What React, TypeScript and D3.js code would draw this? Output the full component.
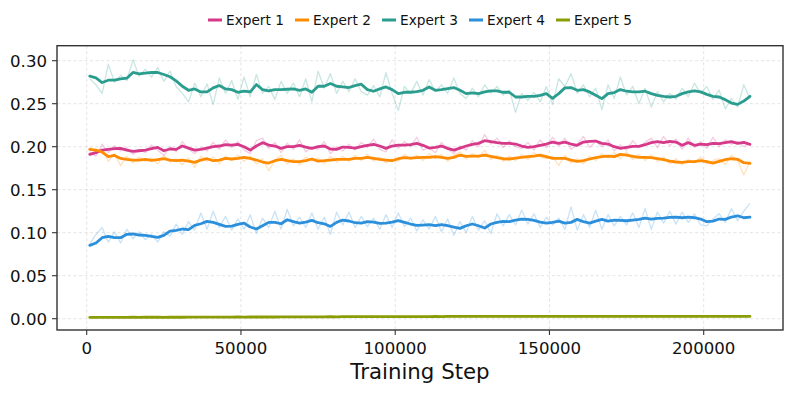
import React from "react";
import * as d3 from "d3";

// Training steps (x categories)
const steps: number[] = d3.range(1000, 215001, 2000);

const seriesNames = ["Expert 1", "Expert 2", "Expert 3", "Expert 4", "Expert 5"];
const seriesColors = ["#d6398a", "#ff8c00", "#2a9d8f", "#2b8fdb", "#8a9c06"];

const yTicks = [0, 0.05, 0.1, 0.15, 0.2, 0.25, 0.3];
const xTicks = [0, 50000, 100000, 150000, 200000];
const xLabel = "Training Step";

// Expert 1
const expert1Smooth = [
  0.1911, 0.193, 0.1961, 0.1969, 0.1977, 0.1981, 0.1961, 0.1946, 0.1953, 0.1961,
  0.1977, 0.1992, 0.1953, 0.1973, 0.1969, 0.2008, 0.1984, 0.1961, 0.1969, 0.1984,
  0.2, 0.2008, 0.2023, 0.2019, 0.2027, 0.2, 0.1961, 0.2008, 0.2047, 0.2019,
  0.2008, 0.1981, 0.2, 0.2, 0.2016, 0.1996, 0.1981, 0.2, 0.2008, 0.1973,
  0.1969, 0.1996, 0.1992, 0.1984, 0.2, 0.2016, 0.2027, 0.2008, 0.1981, 0.2008,
  0.2019, 0.2019, 0.2023, 0.2039, 0.2016, 0.1984, 0.1992, 0.2008, 0.1981, 0.1961,
  0.1984, 0.2008, 0.2027, 0.2039, 0.207, 0.2058, 0.2047, 0.2039, 0.2039, 0.2031,
  0.2008, 0.1992, 0.2, 0.2016, 0.2031, 0.2054, 0.2039, 0.2054, 0.2031, 0.2016,
  0.2054, 0.2062, 0.2066, 0.2039, 0.2031, 0.2, 0.1981, 0.1992, 0.2004, 0.2004,
  0.2023, 0.2047, 0.2058, 0.2047, 0.2062, 0.2054, 0.2016, 0.2047, 0.2016, 0.2031,
  0.2023, 0.2039, 0.2035, 0.2047, 0.2058, 0.2039, 0.205, 0.2027,
];
const expert1Raw = [
  0.194, 0.189, 0.203, 0.193, 0.201, 0.195, 0.199, 0.191, 0.197, 0.193,
  0.202, 0.196, 0.19, 0.2, 0.194, 0.206, 0.197, 0.192, 0.199, 0.195,
  0.205, 0.197, 0.208, 0.199, 0.206, 0.196, 0.192, 0.207, 0.21, 0.198,
  0.205, 0.193, 0.204, 0.197, 0.208, 0.194, 0.199, 0.197, 0.206, 0.192,
  0.2, 0.195, 0.203, 0.196, 0.205, 0.199, 0.209, 0.197, 0.194, 0.208,
  0.198, 0.206, 0.2, 0.211, 0.196, 0.199, 0.193, 0.205, 0.197, 0.192,
  0.201, 0.196, 0.207, 0.2, 0.214, 0.203, 0.21, 0.199, 0.207, 0.2,
  0.198, 0.205, 0.196, 0.208, 0.199, 0.211, 0.201, 0.21, 0.197, 0.203,
  0.212, 0.199, 0.206, 0.2, 0.208, 0.195, 0.202, 0.196, 0.207, 0.199,
  0.205, 0.21, 0.199, 0.212, 0.201, 0.209, 0.197, 0.21, 0.199, 0.206,
  0.198, 0.211, 0.2, 0.208, 0.203, 0.206, 0.2, 0.204,
];

// Expert 2
const expert2Smooth = [
  0.1969, 0.1961, 0.1938, 0.1884, 0.1899, 0.1864, 0.1853, 0.1845, 0.1845, 0.1853,
  0.1841, 0.1849, 0.186, 0.1845, 0.1837, 0.1845, 0.1833, 0.1818, 0.1845, 0.186,
  0.1837, 0.1845, 0.1864, 0.1857, 0.1864, 0.1876, 0.1864, 0.1845, 0.1822, 0.181,
  0.1837, 0.1853, 0.1837, 0.1826, 0.1826, 0.1837, 0.1857, 0.1833, 0.1837, 0.1845,
  0.1853, 0.1853, 0.1853, 0.1864, 0.1864, 0.1876, 0.1864, 0.1853, 0.1845, 0.1837,
  0.186, 0.1872, 0.1868, 0.1872, 0.1876, 0.1876, 0.1884, 0.1876, 0.1864, 0.1876,
  0.1903, 0.1888, 0.1891, 0.1891, 0.1903, 0.1888, 0.1872, 0.186, 0.1857, 0.1868,
  0.1876, 0.1884, 0.1891, 0.1903, 0.1884, 0.1864, 0.1864, 0.1864, 0.1845, 0.1829,
  0.1837, 0.1857, 0.1872, 0.1884, 0.1891, 0.1884, 0.1911, 0.1903, 0.1888, 0.1876,
  0.1876, 0.1872, 0.186, 0.1849, 0.1833, 0.1822, 0.1818, 0.1826, 0.1826, 0.1837,
  0.1826, 0.181, 0.1829, 0.1849, 0.186, 0.1853, 0.1814, 0.1806,
];
const expert2Raw = [
  0.199, 0.193, 0.197, 0.183, 0.192, 0.178, 0.189, 0.181, 0.188, 0.183,
  0.187, 0.18, 0.19, 0.182, 0.186, 0.179, 0.187, 0.176, 0.189, 0.183,
  0.188, 0.18, 0.189, 0.184, 0.19, 0.183, 0.189, 0.18, 0.186, 0.172,
  0.184, 0.19, 0.18, 0.186, 0.179, 0.188, 0.183, 0.187, 0.18, 0.189,
  0.182, 0.189, 0.183, 0.19, 0.184, 0.191, 0.183, 0.188, 0.181, 0.186,
  0.183, 0.191, 0.185, 0.19, 0.184, 0.192, 0.186, 0.191, 0.183, 0.19,
  0.194, 0.186, 0.192, 0.187, 0.196, 0.185, 0.19, 0.183, 0.189, 0.184,
  0.191, 0.185, 0.193, 0.188, 0.186, 0.189, 0.178, 0.19, 0.181, 0.186,
  0.18, 0.189, 0.184, 0.192, 0.187, 0.193, 0.186, 0.194, 0.185, 0.191,
  0.184, 0.19, 0.183, 0.188, 0.18, 0.186, 0.179, 0.185, 0.181, 0.188,
  0.18, 0.184, 0.186, 0.179, 0.19, 0.184, 0.167, 0.183,
];

// Expert 3
const expert3Smooth = [
  0.282, 0.28, 0.2746, 0.2773, 0.2773, 0.2789, 0.2797, 0.2863, 0.2848, 0.2855,
  0.2863, 0.2863, 0.284, 0.2813, 0.2766, 0.2703, 0.2656, 0.2672, 0.2637, 0.2637,
  0.2684, 0.2711, 0.2672, 0.2664, 0.2633, 0.2645, 0.2637, 0.2723, 0.2664, 0.2648,
  0.2664, 0.2664, 0.2668, 0.2672, 0.2656, 0.2672, 0.2633, 0.2703, 0.2703, 0.2734,
  0.2703, 0.2695, 0.2688, 0.2711, 0.2727, 0.2664, 0.2645, 0.2672, 0.2695, 0.2664,
  0.2617, 0.2633, 0.2633, 0.2641, 0.2656, 0.2695, 0.2656, 0.2664, 0.2676, 0.2688,
  0.2656, 0.2617, 0.2625, 0.2617, 0.2637, 0.2648, 0.2648, 0.2633, 0.2633, 0.2578,
  0.2578, 0.2586, 0.2586, 0.2598, 0.2617, 0.2563, 0.2617, 0.2684, 0.2688, 0.2656,
  0.2664, 0.2637, 0.2598, 0.2559, 0.2617, 0.2629, 0.2664, 0.2645, 0.2637, 0.2637,
  0.2645, 0.2617, 0.2598, 0.2586, 0.2578, 0.2586, 0.2617, 0.2637, 0.2648, 0.2637,
  0.2609, 0.2586, 0.2578, 0.2547, 0.2508, 0.2492, 0.2531, 0.2586,
];
const expert3Raw = [
  0.279, 0.272, 0.262, 0.296, 0.275, 0.283, 0.277, 0.301, 0.282, 0.29,
  0.281, 0.292, 0.276, 0.288, 0.27, 0.262, 0.252, 0.274, 0.258, 0.273,
  0.249, 0.28, 0.262, 0.277, 0.255, 0.281, 0.258, 0.284, 0.262, 0.27,
  0.255, 0.276, 0.262, 0.274, 0.258, 0.279, 0.252, 0.288, 0.268, 0.285,
  0.262, 0.276, 0.264, 0.279, 0.264, 0.26, 0.271, 0.258, 0.286, 0.262,
  0.242, 0.27, 0.262, 0.276, 0.26, 0.278, 0.264, 0.272, 0.262, 0.28,
  0.262, 0.256, 0.268, 0.258, 0.272, 0.262, 0.27, 0.26, 0.266, 0.24,
  0.262, 0.254, 0.263, 0.252, 0.27, 0.249, 0.279, 0.27, 0.285, 0.262,
  0.272, 0.258, 0.268, 0.243, 0.272, 0.256, 0.281, 0.26, 0.27, 0.25,
  0.268, 0.246, 0.264, 0.252, 0.262, 0.255, 0.268, 0.258, 0.274, 0.262,
  0.27, 0.255, 0.266, 0.244, 0.256, 0.246, 0.272, 0.256,
];

// Expert 4
const expert4Smooth = [
  0.0853, 0.088, 0.0942, 0.0957, 0.0942, 0.0942, 0.0981, 0.0985, 0.0973, 0.0969,
  0.0957, 0.0946, 0.0969, 0.1019, 0.1027, 0.1043, 0.1035, 0.1085, 0.1104, 0.1131,
  0.112, 0.1097, 0.1073, 0.1077, 0.1097, 0.1112, 0.1066, 0.1043, 0.1081, 0.112,
  0.112, 0.1104, 0.1151, 0.1128, 0.1112, 0.1124, 0.1143, 0.1116, 0.1104, 0.1073,
  0.112, 0.1147, 0.1136, 0.1116, 0.1112, 0.1128, 0.1124, 0.1108, 0.1112, 0.1124,
  0.114, 0.112, 0.1101, 0.1085, 0.1089, 0.1093, 0.1081, 0.1093, 0.1081, 0.1066,
  0.105, 0.1081, 0.1101, 0.1081, 0.1054, 0.1101, 0.112, 0.1131, 0.1128, 0.1147,
  0.1158, 0.1155, 0.1143, 0.1124, 0.1112, 0.112, 0.1135, 0.1112, 0.112, 0.1155,
  0.1128, 0.1112, 0.1135, 0.1155, 0.1135, 0.1147, 0.1143, 0.1139, 0.1147, 0.1155,
  0.117, 0.1159, 0.1166, 0.117, 0.1178, 0.1182, 0.1174, 0.1182, 0.1174, 0.1159,
  0.1128, 0.1135, 0.1159, 0.1155, 0.1182, 0.1197, 0.1174, 0.118,
];
const expert4Raw = [
  0.087, 0.098, 0.106, 0.089, 0.101, 0.088, 0.104, 0.093, 0.101, 0.092,
  0.098, 0.089, 0.101, 0.096, 0.11, 0.098, 0.113, 0.103, 0.123, 0.104,
  0.125, 0.106, 0.119, 0.103, 0.116, 0.104, 0.121, 0.099, 0.117, 0.106,
  0.125, 0.104, 0.127, 0.108, 0.118, 0.106, 0.123, 0.104, 0.118, 0.098,
  0.124, 0.109, 0.124, 0.106, 0.119, 0.107, 0.117, 0.104, 0.121, 0.106,
  0.123, 0.107, 0.117, 0.102, 0.115, 0.104, 0.119, 0.101, 0.116, 0.097,
  0.113, 0.1, 0.119, 0.103, 0.114, 0.099, 0.122, 0.108, 0.121, 0.109,
  0.126, 0.11, 0.122, 0.106, 0.118, 0.109, 0.117, 0.104, 0.13, 0.103,
  0.121, 0.106, 0.126, 0.104, 0.121, 0.108, 0.119, 0.109, 0.123, 0.106,
  0.128, 0.104, 0.124, 0.111, 0.125, 0.11, 0.124, 0.112, 0.122, 0.109,
  0.108, 0.116, 0.122, 0.112, 0.128, 0.114, 0.125, 0.134,
];

// Expert 5
const expert5Smooth = [
  0.0015, 0.0015, 0.0016, 0.0015, 0.0016, 0.0016, 0.0016, 0.0017, 0.0016, 0.0017,
  0.0017, 0.0017, 0.0016, 0.0017, 0.0018, 0.0017, 0.0018, 0.0018, 0.0018, 0.0019,
  0.0018, 0.0019, 0.0019, 0.0019, 0.002, 0.0019, 0.002, 0.002, 0.002, 0.0021,
  0.002, 0.0021, 0.0021, 0.0021, 0.0022, 0.0021, 0.0022, 0.0022, 0.0022, 0.0023,
  0.0022, 0.0023, 0.0023, 0.0023, 0.0024, 0.0023, 0.0024, 0.0024, 0.0024, 0.0024,
  0.0025, 0.0024, 0.0025, 0.0025, 0.0025, 0.0025, 0.0026, 0.0025, 0.0026, 0.0026,
  0.0026, 0.0026, 0.0026, 0.0027, 0.0026, 0.0027, 0.0026, 0.0027, 0.0027, 0.0026,
  0.0027, 0.0026, 0.0027, 0.0027, 0.0026, 0.0027, 0.0027, 0.0026, 0.0027, 0.0027,
  0.0027, 0.0026, 0.0027, 0.0027, 0.0027, 0.0026, 0.0027, 0.0027, 0.0027, 0.0027,
  0.0027, 0.0027, 0.0026, 0.0027, 0.0027, 0.0027, 0.0027, 0.0027, 0.0027, 0.0028,
  0.0027, 0.0027, 0.0028, 0.0027, 0.0028, 0.0028, 0.0028, 0.0028,
];
const expert5Raw = [
  0.0017, 0.0014, 0.0018, 0.0014, 0.0018, 0.0015, 0.0018, 0.0016, 0.0018, 0.0016,
  0.0019, 0.0016, 0.0018, 0.0016, 0.002, 0.0016, 0.002, 0.0017, 0.002, 0.0018,
  0.002, 0.0018, 0.0021, 0.0018, 0.0022, 0.0018, 0.0022, 0.0019, 0.0022, 0.002,
  0.0022, 0.002, 0.0023, 0.002, 0.0024, 0.002, 0.0024, 0.0021, 0.0024, 0.0022,
  0.0024, 0.0022, 0.0025, 0.0022, 0.0026, 0.0022, 0.0026, 0.0023, 0.0026, 0.0023,
  0.0027, 0.0023, 0.0027, 0.0024, 0.0027, 0.0024, 0.0028, 0.0024, 0.0028, 0.0025,
  0.0028, 0.0025, 0.0028, 0.0026, 0.0028, 0.0026, 0.0028, 0.0026, 0.0029, 0.0025,
  0.0029, 0.0025, 0.0029, 0.0026, 0.0028, 0.0026, 0.0029, 0.0025, 0.0029, 0.0026,
  0.0029, 0.0025, 0.0029, 0.0026, 0.0029, 0.0025, 0.0029, 0.0026, 0.0029, 0.0026,
  0.0029, 0.0026, 0.0028, 0.0026, 0.0029, 0.0026, 0.0029, 0.0026, 0.0029, 0.0027,
  0.0029, 0.0026, 0.003, 0.0026, 0.003, 0.0027, 0.003, 0.0027,
];

const smoothSeries = [expert1Smooth, expert2Smooth, expert3Smooth, expert4Smooth, expert5Smooth];
const rawSeries = [expert1Raw, expert2Raw, expert3Raw, expert4Raw, expert5Raw];

const FONT = "DejaVu Sans, Verdana, sans-serif";

export default function App() {
  const W = 793;
  const H = 394;
  const left = 57;
  const right = 783;
  const top = 45.7;
  const bottom = 330;

  const x = d3.scaleLinear().domain([0, 200000]).range([86.7, 703.7]);
  const y = d3.scaleLinear().domain([0, 0.3]).range([318.7, 60.7]);

  const line = (vals: number[]) =>
    d3
      .line<number>()
      .x((_, i) => x(steps[i]))
      .y((d) => y(d))(vals) || "";

  const fmtY = d3.format(".2f");
  const fmtX = d3.format("d");

  const legendStart = 208;
  const legendPitch = 87;

  return (
    <svg
      width={W}
      height={H}
      viewBox={`0 0 ${W} ${H}`}
      style={{ position: "absolute", left: 0, top: 0, background: "#fff" }}
      fontFamily={FONT}
    >
      <rect x={0} y={0} width={W} height={H} fill="#fff" />
      <defs>
        <clipPath id="plotClip">
          <rect x={left} y={top} width={right - left} height={bottom - top} />
        </clipPath>
      </defs>

      {/* grid */}
      <g stroke="#b8b8b8" strokeOpacity={0.5} strokeWidth={0.8} strokeDasharray="3 2.5">
        {xTicks.map((t) => (
          <line key={"gx" + t} x1={x(t)} x2={x(t)} y1={top} y2={bottom} />
        ))}
        {yTicks.map((t) => (
          <line key={"gy" + t} x1={left} x2={right} y1={y(t)} y2={y(t)} />
        ))}
      </g>

      {/* raw + smoothed lines */}
      <g clipPath="url(#plotClip)" fill="none" strokeLinejoin="round">
        {rawSeries.map((vals, k) => (
          <path
            key={"raw" + k}
            d={line(vals)}
            stroke={seriesColors[k]}
            strokeOpacity={0.26}
            strokeWidth={1.3}
          />
        ))}
        {smoothSeries.map((vals, k) => (
          <path
            key={"sm" + k}
            d={line(vals)}
            stroke={seriesColors[k]}
            strokeWidth={2.8}
            strokeLinejoin="round"
            strokeLinecap="round"
          />
        ))}
      </g>

      {/* frame */}
      <rect
        x={left}
        y={top}
        width={right - left}
        height={bottom - top}
        fill="none"
        stroke="#333"
        strokeWidth={1.4}
      />

      {/* y axis ticks */}
      {yTicks.map((t) => (
        <g key={"yt" + t}>
          <line x1={left - 5} x2={left} y1={y(t)} y2={y(t)} stroke="#333" strokeWidth={1.1} />
          <text
            x={left - 10}
            y={y(t)}
            dy="0.36em"
            textAnchor="end"
            fontSize={16.6}
            fill="#111"
          >
            {fmtY(t)}
          </text>
        </g>
      ))}

      {/* x axis ticks */}
      {xTicks.map((t) => (
        <g key={"xt" + t}>
          <line x1={x(t)} x2={x(t)} y1={bottom} y2={bottom + 5} stroke="#333" strokeWidth={1.1} />
          <text x={x(t)} y={354} textAnchor="middle" fontSize={16.6} fill="#111">
            {fmtX(t)}
          </text>
        </g>
      ))}

      <text x={(left + right) / 2} y={378.5} textAnchor="middle" fontSize={21.3} fill="#111">
        {xLabel}
      </text>

      {/* legend */}
      {seriesNames.map((name, k) => {
        const x0 = legendStart + legendPitch * k;
        return (
          <g key={"lg" + k}>
            <line x1={x0} x2={x0 + 14} y1={20} y2={20} stroke={seriesColors[k]} strokeWidth={3} />
            <text x={x0 + 18} y={25.3} fontSize={13.7} fill="#111">
              {name}
            </text>
          </g>
        );
      })}
    </svg>
  );
}
